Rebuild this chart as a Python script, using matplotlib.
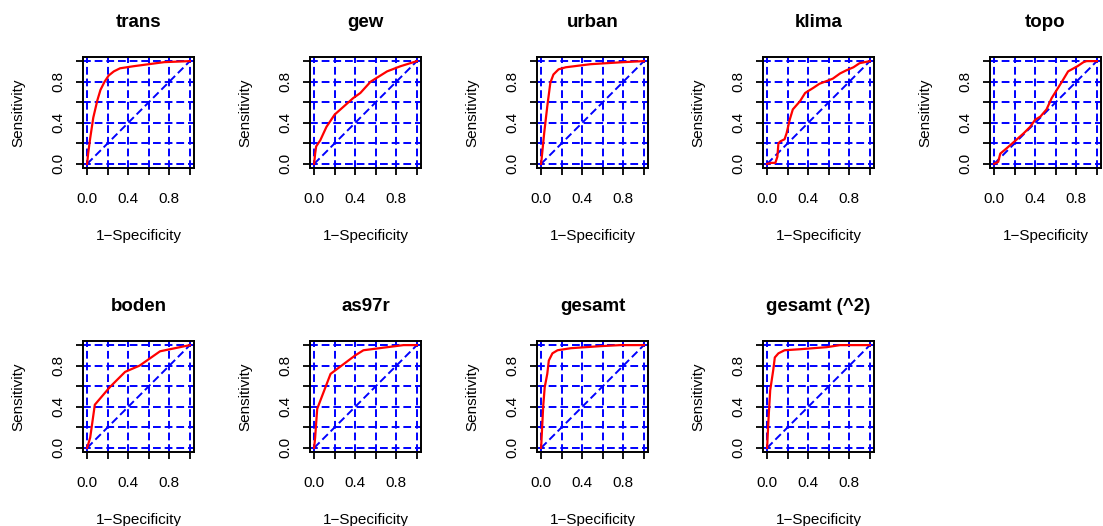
import matplotlib
matplotlib.use("Agg")
import matplotlib.pyplot as plt

plt.rcParams['font.family'] = ['Liberation Sans', 'DejaVu Sans']

# ROC curves: (1-specificity, sensitivity)
trans_fpr = [0, 0.01, 0.03, 0.06, 0.10, 0.13, 0.17, 0.21, 0.26, 0.32, 0.45, 0.60, 0.75, 1.0]
trans_tpr = [0, 0.10, 0.25, 0.45, 0.62, 0.72, 0.80, 0.86, 0.90, 0.93, 0.95, 0.97, 0.99, 1.0]

gew_fpr = [0, 0.01, 0.02, 0.06, 0.12, 0.20, 0.29, 0.38, 0.45, 0.55, 0.71, 0.84, 1.0]
gew_tpr = [0, 0.10, 0.17, 0.23, 0.36, 0.48, 0.56, 0.64, 0.69, 0.80, 0.90, 0.95, 1.0]

urban_fpr = [0, 0.03, 0.06, 0.09, 0.12, 0.17, 0.24, 0.48, 0.80, 1.0]
urban_tpr = [0, 0.30, 0.56, 0.79, 0.87, 0.92, 0.94, 0.97, 0.99, 1.0]

klima_fpr = [0, 0.04, 0.08, 0.10, 0.11, 0.13, 0.17, 0.19, 0.22, 0.25, 0.32, 0.37,
             0.45, 0.51, 0.59, 0.64, 0.71, 0.77, 0.84, 0.90, 1.0]
klima_tpr = [0, 0.01, 0.01, 0.07, 0.20, 0.22, 0.24, 0.30, 0.43, 0.53, 0.61, 0.69,
             0.74, 0.78, 0.81, 0.83, 0.88, 0.91, 0.94, 0.98, 1.0]

topo_fpr = [0, 0.04, 0.06, 0.12, 0.20, 0.29, 0.35, 0.40, 0.45, 0.51, 0.56, 0.61,
            0.66, 0.72, 0.81, 0.87, 0.90, 1.0]
topo_tpr = [0, 0.02, 0.10, 0.15, 0.22, 0.30, 0.36, 0.43, 0.46, 0.53, 0.64, 0.72,
            0.80, 0.90, 0.95, 0.99, 1.0, 1.0]

boden_fpr = [0, 0.03, 0.075, 0.22, 0.37, 0.51, 0.71, 1.0]
boden_tpr = [0, 0.10, 0.42, 0.59, 0.74, 0.80, 0.94, 1.0]

as97r_fpr = [0, 0.01, 0.03, 0.16, 0.40, 0.48, 0.87, 1.0]
as97r_tpr = [0, 0.10, 0.38, 0.72, 0.90, 0.95, 1.0, 1.0]

gesamt_fpr = [0, 0.01, 0.02, 0.035, 0.06, 0.075, 0.11, 0.16, 0.29, 0.58, 0.77, 1.0]
gesamt_tpr = [0, 0.20, 0.40, 0.59, 0.72, 0.85, 0.92, 0.95, 0.97, 0.99, 1.0, 1.0]

gesamt2_fpr = [0, 0.013, 0.03, 0.06, 0.075, 0.11, 0.17, 0.32, 0.58, 0.71, 1.0]
gesamt2_tpr = [0, 0.27, 0.56, 0.76, 0.88, 0.92, 0.95, 0.96, 0.98, 1.0, 1.0]

titles = ['trans', 'gew', 'urban', 'klima', 'topo',
          'boden', 'as97r', 'gesamt', 'gesamt (^2)']
curves = [(trans_fpr, trans_tpr), (gew_fpr, gew_tpr), (urban_fpr, urban_tpr),
          (klima_fpr, klima_tpr), (topo_fpr, topo_tpr), (boden_fpr, boden_tpr),
          (as97r_fpr, as97r_tpr), (gesamt_fpr, gesamt_tpr), (gesamt2_fpr, gesamt2_tpr)]

grid_pos = [0, 0.2, 0.4, 0.6, 0.8, 1.0]
tick_labels = ['0.0', '', '0.4', '', '0.8', '']

W, H = 1103, 526
fig = plt.figure(figsize=(W / 100, H / 100), dpi=100)

box = 111  # px
col_left = [83, 310, 537, 763, 990]
row_top = [57, 341]

dash = (4, 2)
for i, (name, (fpr, tpr)) in enumerate(zip(titles, curves)):
    r, c = divmod(i, 5)
    left = col_left[c] / W
    bottom = (H - row_top[r] - box) / H
    ax = fig.add_axes([left, bottom, box / W, box / H])
    ax.set_xlim(-0.04, 1.04)
    ax.set_ylim(-0.04, 1.04)

    for g in grid_pos:
        ax.axhline(g, color='blue', lw=1.4, dashes=dash, zorder=1)
        ax.axvline(g, color='blue', lw=1.4, dashes=dash, zorder=1)
    ax.plot([0, 1], [0, 1], color='blue', lw=1.4, dashes=dash, zorder=1)
    ax.plot(fpr, tpr, color='red', lw=1.6, zorder=2)

    ax.set_xticks(grid_pos)
    ax.set_xticklabels(tick_labels, fontsize=11)
    ax.set_yticks(grid_pos)
    ax.set_yticklabels(tick_labels, fontsize=11, rotation=90, va='center')
    ax.tick_params(direction='out', length=5, width=1.3)
    ax.tick_params(axis='x', pad=12)
    ax.tick_params(axis='y', pad=8)
    for s in ax.spines.values():
        s.set_linewidth(1.4)

    ax.text(0.5, 1.27, name, transform=ax.transAxes, ha='center',
            va='baseline', fontsize=13.5, fontweight='bold')
    ax.text(0.5, -0.65, '1\u2212Specificity', transform=ax.transAxes,
            ha='center', va='baseline', fontsize=11)
    ax.text(-0.58, 0.5, 'Sensitivity', transform=ax.transAxes, ha='center',
            va='center', rotation=90, fontsize=11)

fig.savefig('out.png', dpi=100)
